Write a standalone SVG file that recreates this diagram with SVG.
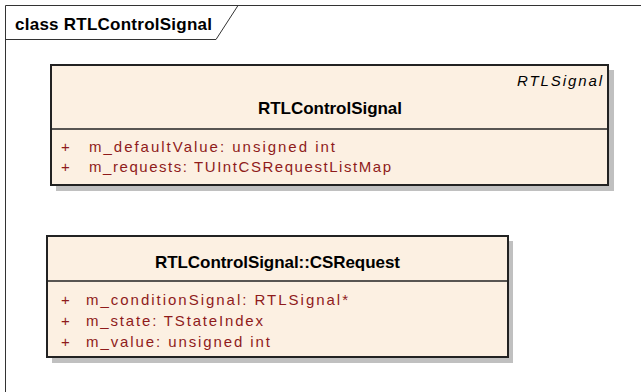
<svg xmlns="http://www.w3.org/2000/svg" width="641" height="392" viewBox="0 0 641 392">
<style>
.frame{fill:none;stroke:#333;stroke-width:1}
.shadow{fill:#c0c0c0}
.box{fill:#fcf0e2;stroke:#222;stroke-width:2}
.div{stroke:#222;stroke-width:1.5}
.title{font-family:"Liberation Sans",Arial,sans-serif;font-weight:bold;font-size:17px;fill:#000}
.name{font-family:"Liberation Sans",Arial,sans-serif;font-weight:bold;font-size:17px;fill:#000}
.stereo{font-family:"Liberation Sans",Arial,sans-serif;font-style:italic;font-size:15px;fill:#000}
.attr{font-family:"Liberation Sans",Arial,sans-serif;font-size:15px;fill:#8f1b1b}
</style>
<rect width="641" height="392" fill="#fff"/>
<g id="frame">
<path class="frame" d="M5.5 392 V5.5 H641 M5.5 39.5 H216 L238 5.5"/>
<text class="title" x="15" y="30" textLength="197" lengthAdjust="spacing">class RTLControlSignal</text>
</g>
<g id="RTLControlSignal">
<rect class="shadow" x="56" y="70" width="558" height="121"/>
<rect class="box" x="51" y="65" width="557" height="120"/>
<line class="div" x1="51" y1="129" x2="608" y2="129"/>
<text class="stereo" x="517" y="86" textLength="85" lengthAdjust="spacing">RTLSignal</text>
<text class="name" x="258" y="114" textLength="144" lengthAdjust="spacing">RTLControlSignal</text>
<text class="attr" x="61" y="152">+</text>
<text class="attr" x="89" y="152" textLength="246" lengthAdjust="spacing">m_defaultValue: unsigned int</text>
<text class="attr" x="61" y="172">+</text>
<text class="attr" x="89" y="172" textLength="302" lengthAdjust="spacing">m_requests: TUIntCSRequestListMap</text>
</g>
<g id="CSRequest">
<rect class="shadow" x="52" y="241" width="461" height="122"/>
<rect class="box" x="47" y="236" width="461" height="121"/>
<line class="div" x1="47" y1="281" x2="508" y2="281"/>
<text class="name" x="155" y="268" textLength="245" lengthAdjust="spacing">RTLControlSignal::CSRequest</text>
<text class="attr" x="61" y="305">+</text>
<text class="attr" x="86" y="305" textLength="262" lengthAdjust="spacing">m_conditionSignal: RTLSignal*</text>
<text class="attr" x="61" y="326">+</text>
<text class="attr" x="86" y="326" textLength="177" lengthAdjust="spacing">m_state: TStateIndex</text>
<text class="attr" x="61" y="347">+</text>
<text class="attr" x="86" y="347" textLength="184" lengthAdjust="spacing">m_value: unsigned int</text>
</g>
<g id="connectors"></g>
</svg>
